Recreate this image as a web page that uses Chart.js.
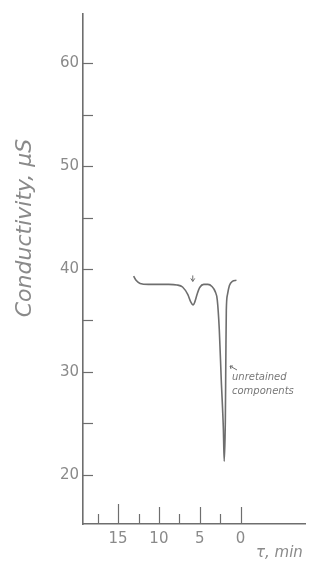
<!DOCTYPE html>
<html>
<head>
<meta charset="utf-8">
<script src="https://cdn.jsdelivr.net/npm/chart.js@4/dist/chart.umd.min.js"></script>
<style>
  html, body { margin: 0; padding: 0; background: #fff; }
  #wrap { width: 314px; height: 565px; }
</style>
</head>
<body>
<div id="wrap"><canvas id="grafico"></canvas></div>
<script>
(function (window, document) {
    'use strict';

    var tempo = [13.1, 12.8, 12.3, 11.3, 10.0, 8.8, 7.8, 7.1, 6.45, 6.1, 5.8, 5.6, 5.3, 5.0, 4.5, 4.0, 3.5, 3.1, 2.85, 2.6, 2.36, 2.1, 2.0, 1.86, 1.8, 1.74, 1.6, 1.36, 1.0, 0.5];
    var condutividade = [39.3, 38.9, 38.6, 38.5, 38.5, 38.5, 38.45, 38.25, 37.5, 36.8, 36.5, 36.8, 37.6, 38.2, 38.5, 38.5, 38.3, 37.8, 37.0, 34.1, 29.2, 24.4, 21.3, 25.3, 31.2, 36.0, 37.5, 38.4, 38.8, 38.9];

    var ticksY = [20, 25, 30, 35, 40, 45, 50, 55, 60];
    var rotulosY = [20, 30, 40, 50, 60];
    var ticksX = [17.5, 15, 12.5, 10, 7.5, 5, 2.5, 0];
    var rotulosX = [15, 10, 5, 0];

    var cinza = '#6e6e6e';
    var cinzaTexto = '#8a8a8a';

    var pontos = tempo.map(function (t, i) {
        return { x: t, y: condutividade[i] };
    });

    // marcas das escalas viradas para dentro do grafico, e textos manuscritos
    var desenhoManual = {
        id: 'desenhoManual',
        afterDraw: function (chart) {
            var ctx = chart.ctx;
            var sx = chart.scales.x;
            var sy = chart.scales.y;
            var area = chart.chartArea;
            ctx.save();
            ctx.strokeStyle = cinza;
            ctx.lineWidth = 1.2;
            ticksY.forEach(function (v) {
                var py = Math.round(sy.getPixelForValue(v)) + 0.5;
                ctx.beginPath();
                ctx.moveTo(area.left, py);
                ctx.lineTo(area.left + 10, py);
                ctx.stroke();
            });
            ticksX.forEach(function (v) {
                var px = Math.round(sx.getPixelForValue(v)) + 0.5;
                var h = rotulosX.indexOf(v) >= 0 ? 17 : 10;
                if (v === 15) { h = 20; }
                ctx.beginPath();
                ctx.moveTo(px, area.bottom);
                ctx.lineTo(px, area.bottom - h);
                ctx.stroke();
            });

            ctx.fillStyle = cinzaTexto;
            ctx.font = 'italic 22px "DejaVu Sans"';
            ctx.textAlign = 'center';
            ctx.textBaseline = 'middle';
            ctx.save();
            ctx.translate(25, 228);
            ctx.rotate(-Math.PI / 2);
            ctx.fillText('Conductivity, μS', 0, 0);
            ctx.restore();

            ctx.font = 'italic 15px "DejaVu Sans"';
            ctx.textAlign = 'left';
            ctx.fillText('τ, min', 256, 553);

            // seta sobre o pico pequeno
            var ax = sx.getPixelForValue(5.85);
            var ay = sy.getPixelForValue(38.5);
            ctx.lineWidth = 1;
            ctx.beginPath();
            ctx.moveTo(ax, ay - 9);
            ctx.lineTo(ax, ay - 3);
            ctx.moveTo(ax - 2, ay - 6);
            ctx.lineTo(ax, ay - 3);
            ctx.lineTo(ax + 2, ay - 6);
            ctx.stroke();

            ctx.font = 'italic 10px "DejaVu Sans"';
            ctx.fillStyle = '#777';
            ctx.fillText('unretained', 232, 377);
            ctx.fillText('components', 232, 391);
            ctx.beginPath();
            ctx.moveTo(237, 370);
            ctx.lineTo(230, 366);
            ctx.moveTo(230, 366);
            ctx.lineTo(233, 366);
            ctx.moveTo(230, 366);
            ctx.lineTo(231, 369);
            ctx.stroke();
            ctx.restore();
        }
    };

    var $grafico = document.getElementById('grafico');

    var chart = new Chart($grafico, {
        type: 'line',
        data: {
            datasets: [{
                data: pontos,
                borderColor: cinza,
                borderWidth: 1.6,
                pointRadius: 0,
                fill: false,
                cubicInterpolationMode: 'monotone'
            }]
        },
        options: {
            responsive: true,
            maintainAspectRatio: false,
            animation: false,
            events: [],
            layout: {
                padding: { top: 14, right: 9, left: 0, bottom: 0 }
            },
            plugins: {
                legend: { display: false },
                tooltip: { enabled: false }
            },
            scales: {
                x: {
                    type: 'linear',
                    reverse: true,
                    min: -7.9,
                    max: 19.3,
                    afterBuildTicks: function (s) {
                        s.ticks = rotulosX.map(function (v) { return { value: v }; });
                    },
                    afterFit: function (s) { s.height = 41; },
                    grid: { display: false, drawTicks: false },
                    border: { display: true, color: cinza, width: 1.6 },
                    ticks: {
                        color: cinzaTexto,
                        padding: 6,
                        maxRotation: 0,
                        autoSkip: false,
                        font: { family: 'DejaVu Sans', size: 15 }
                    }
                },
                y: {
                    type: 'linear',
                    min: 15.2,
                    max: 64.8,
                    afterBuildTicks: function (s) {
                        s.ticks = rotulosY.map(function (v) { return { value: v }; });
                    },
                    afterFit: function (s) { s.width = 83; },
                    grid: { display: false, drawTicks: false },
                    border: { display: true, color: cinza, width: 1.6 },
                    ticks: {
                        color: cinzaTexto,
                        padding: 4,
                        autoSkip: false,
                        font: { family: 'DejaVu Sans', size: 15 }
                    }
                }
            }
        },
        plugins: [desenhoManual]
    });
})(window, document);
</script>
</body>
</html>
